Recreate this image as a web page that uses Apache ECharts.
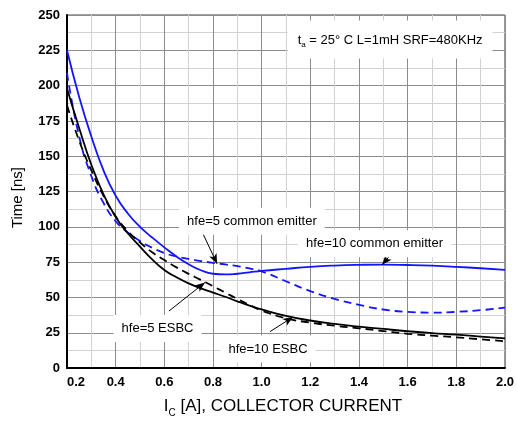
<!DOCTYPE html>
<html>
<head>
<meta charset="utf-8">
<title>Switching time vs collector current</title>
<script src="https://cdn.jsdelivr.net/npm/echarts@6/dist/echarts.min.js"></script>
<style>
    html, body { margin: 0; padding: 0; background: #fff; }
    #timeChart { width: 517px; height: 423px; }
</style>
</head>
<body>
<div id="timeChart"></div>
<script>
// collector current samples [A]
var currents = [0.2, 0.25, 0.3, 0.35, 0.4, 0.45, 0.5, 0.55, 0.6, 0.65, 0.7, 0.75, 0.8, 0.85, 0.9, 0.95,
    1.0, 1.1, 1.2, 1.3, 1.4, 1.5, 1.6, 1.7, 1.8, 1.9, 2.0];
// time [ns]
var hfe10Common = [225, 192, 164, 140, 122, 109.5, 100, 92.5, 85.5, 79, 73.5, 69.3, 66.8, 66.3, 66.8, 67.8,
    68.8, 70.3, 71.7, 72.6, 73.1, 73.3, 73, 72.5, 71.7, 70.7, 69.6];
var hfe5Common = [209, 164, 136, 117, 104, 96, 90, 85.2, 81.5, 79, 77.3, 75.8, 74.5, 73.4, 72.2, 70.6,
    68.5, 61.5, 54.5, 49, 44.8, 41.5, 39.8, 39.3, 39.8, 41, 42.8];
var hfe10Esbc = [198, 170, 144, 123, 107, 95.5, 86, 77, 69.5, 64.3, 60, 56.5, 53.5, 50.5, 47.3, 44.3,
    41.6, 37, 33.7, 31.3, 29.4, 27.7, 26.1, 24.8, 23.7, 22.3, 21];
var hfe5Esbc = [186, 161, 140, 122, 107.5, 97, 89, 82, 76.5, 71.3, 66.7, 62.5, 58, 53.5, 49, 44.7,
    40.7, 35.3, 32.2, 30, 28.2, 26.2, 24.3, 23, 21.8, 20.4, 19];

// callouts: label text, label position, arrow start, arrow tip (data units)
var callouts = [
    {text: 'hfe=5 common emitter', at: [0.96, 104], from: [0.741, 101.7], to: [0.817, 73.8]},
    {text: 'hfe=10 common emitter', at: [1.464, 88], from: [1.536, 81.5], to: [1.495, 73.1]},
    {text: 'hfe=5 ESBC', at: [0.572, 28], from: [0.619, 40.4], to: [0.767, 60.6]},
    {text: 'hfe=10 ESBC', at: [1.026, 13.5], from: [1.034, 25.8], to: [1.129, 36.2]}
];
var conditionText = 't{sub|a} = 25° C L=1mH SRF=480KHz';
var conditionAt = [1.528, 232.6];

/**
 * 组合 x/y 数组
 */
function pairs(xs, ys) {
    var out = [];
    for (var i = 0; i < xs.length; i++) {
        out.push([xs[i], ys[i]]);
    }
    return out;
}

function curve(name, values, color, dashed) {
    return {
        name: name,
        type: 'line',
        data: pairs(currents, values),
        showSymbol: false,
        smooth: 0.5,
        silent: true,
        lineStyle: {
            color: color,
            width: 1.8,
            type: dashed ? [8, 5] : 'solid'
        },
        z: 3
    };
}

function timeChart() {
    var myChart = echarts.init(document.getElementById('timeChart'));
    var font = 'Liberation Sans, Arial, sans-serif';

    var arrowLines = [];
    var labelPoints = [];
    callouts.forEach(function (c) {
        arrowLines.push([
            {coord: c.from, symbol: 'none'},
            {coord: c.to, symbol: 'arrow', symbolSize: [6, 10]}
        ]);
        labelPoints.push({coord: c.at, value: c.text});
    });

    var markData = labelPoints.map(function (p) {
        return {coord: p.coord, value: p.value};
    });
    markData.push({
        coord: conditionAt,
        value: conditionText,
        label: {padding: [12, 10, 10, 10], lineHeight: 16}
    });

    var option = {
        backgroundColor: '#fff',
        animation: false,
        grid: {
            left: 67,
            right: 12,
            top: 15,
            bottom: 49,
            show: true,
            borderColor: '#444',
            borderWidth: 1
        },
        xAxis: {
            type: 'value',
            min: 0.2,
            max: 2.0,
            interval: 0.2,
            name: 'I{sub|C} [A], COLLECTOR CURRENT',
            nameLocation: 'middle',
            nameGap: 25,
            nameTextStyle: {
                fontFamily: font,
                fontSize: 17,
                color: '#000',
                lineHeight: 22,
                padding: [0, 0, 0, -6],
                rich: {
                    sub: {fontFamily: font, fontSize: 10, color: '#000', verticalAlign: 'bottom', lineHeight: 24}
                }
            },
            axisLine: {show: true, onZero: false, lineStyle: {color: '#000', width: 2}},
            axisTick: {show: false},
            axisLabel: {
                margin: 8,
                alignMinLabel: 'left',
                fontFamily: font,
                fontWeight: 'bold',
                fontSize: 13,
                color: '#000',
                formatter: function (v) { return v.toFixed(1); }
            },
            splitLine: {show: true, lineStyle: {color: '#8c8c8c', width: 1}},
            minorTick: {show: false, splitNumber: 2},
            minorSplitLine: {show: true, lineStyle: {color: '#d2d2d2', width: 1}}
        },
        yAxis: {
            type: 'value',
            min: 0,
            max: 250,
            interval: 25,
            name: 'Time [ns]',
            nameLocation: 'middle',
            nameGap: 42,
            nameTextStyle: {fontFamily: font, fontSize: 15, color: '#000', padding: [0, 0, 0, -12]},
            axisLine: {show: true, lineStyle: {color: '#000', width: 2}},
            axisTick: {show: false},
            axisLabel: {
                margin: 7,
                fontFamily: font,
                fontWeight: 'bold',
                fontSize: 13,
                color: '#000'
            },
            splitLine: {show: true, lineStyle: {color: '#8c8c8c', width: 1}},
            minorTick: {show: false, splitNumber: 2},
            minorSplitLine: {show: true, lineStyle: {color: '#d2d2d2', width: 1}}
        },
        series: [
            curve('hfe=10 common emitter', hfe10Common, '#1414ff', false),
            curve('hfe=5 common emitter', hfe5Common, '#1414ff', true),
            curve('hfe=10 ESBC', hfe10Esbc, '#000', false),
            curve('hfe=5 ESBC', hfe5Esbc, '#000', true),
            {
                name: 'notes',
                type: 'line',
                data: [],
                silent: true,
                z: 4,
                markLine: {
                    silent: true,
                    animation: false,
                    label: {show: false},
                    lineStyle: {color: '#000', width: 1, type: 'solid'},
                    emphasis: {disabled: true},
                    data: arrowLines
                },
                markPoint: {
                    silent: true,
                    animation: false,
                    symbol: 'rect',
                    symbolSize: 0,
                    label: {
                        show: true,
                        position: 'inside',
                        formatter: '{c}',
                        fontFamily: font,
                        fontSize: 13,
                        color: '#000',
                        backgroundColor: '#fff',
                        padding: [7, 8, 7, 8],
                        rich: {
                            sub: {fontFamily: font, fontSize: 8, color: '#000', verticalAlign: 'bottom', lineHeight: 16}
                        }
                    },
                    data: markData
                }
            }
        ]
    };
    if (option && typeof option === 'object') {
        myChart.setOption(option, true);
    }
    window.addEventListener('resize', function () {
        myChart.resize();
    });
}

timeChart();
</script>
</body>
</html>
